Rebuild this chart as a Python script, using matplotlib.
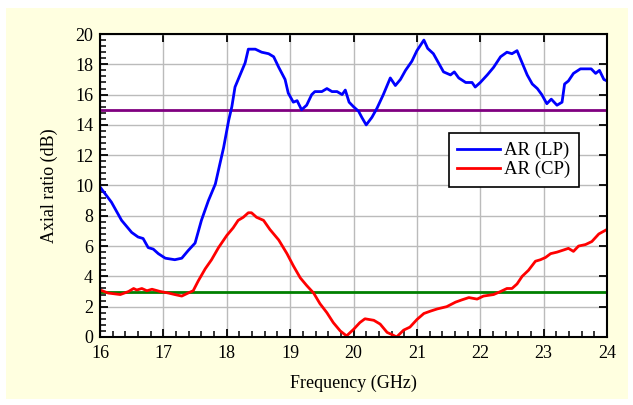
import numpy as np
import matplotlib.pyplot as plt
from matplotlib.patches import Rectangle
from matplotlib.ticker import MultipleLocator

plt.rcParams['font.family'] = ['Liberation Serif', 'DejaVu Serif']

# AR (LP) curve
f_lp = [16.0, 16.18, 16.34, 16.5, 16.6, 16.68, 16.76, 16.84, 16.92, 17.03, 17.18, 17.29,
        17.39, 17.5, 17.6, 17.71, 17.82, 17.89, 17.95, 18.03, 18.08, 18.13, 18.21, 18.29,
        18.34, 18.45, 18.55, 18.66, 18.74, 18.82, 18.92, 18.97, 19.05, 19.11, 19.18, 19.26,
        19.34, 19.39, 19.5, 19.58, 19.66, 19.74, 19.82, 19.87, 19.93, 20.0, 20.08, 20.13,
        20.2, 20.29, 20.37, 20.47, 20.58, 20.66, 20.74, 20.82, 20.92, 21.0, 21.11, 21.17,
        21.26, 21.34, 21.42, 21.53, 21.59, 21.66, 21.77, 21.87, 21.92, 22.0, 22.11, 22.21,
        22.32, 22.42, 22.5, 22.58, 22.66, 22.74, 22.82, 22.9, 22.97, 23.05, 23.12, 23.21,
        23.29, 23.33, 23.39, 23.47, 23.58, 23.68, 23.75, 23.82, 23.88, 23.95, 24.0]
ar_lp = [9.9, 8.9, 7.7, 6.9, 6.6, 6.5, 5.9, 5.8, 5.5, 5.2, 5.1, 5.2,
         5.7, 6.2, 7.7, 9.0, 10.1, 11.4, 12.5, 14.3, 15.2, 16.5, 17.3, 18.1,
         19.0, 19.0, 18.8, 18.7, 18.5, 17.8, 17.0, 16.1, 15.5, 15.6, 15.0, 15.3,
         16.0, 16.2, 16.2, 16.4, 16.2, 16.2, 16.0, 16.3, 15.5, 15.2, 14.9, 14.5,
         14.0, 14.5, 15.1, 16.0, 17.1, 16.6, 17.0, 17.6, 18.2, 18.9, 19.6, 19.05,
         18.7, 18.1, 17.5, 17.3, 17.5, 17.1, 16.8, 16.8, 16.5, 16.8, 17.3, 17.8,
         18.5, 18.8, 18.7, 18.9, 18.1, 17.3, 16.7, 16.4, 16.0, 15.4, 15.7, 15.3,
         15.5, 16.7, 16.9, 17.4, 17.7, 17.7, 17.7, 17.4, 17.6, 17.0, 16.9]

# AR (CP) curve
f_cp = [16.0, 16.13, 16.32, 16.45, 16.53, 16.58, 16.66, 16.74, 16.82, 16.95, 17.08, 17.18,
        17.29, 17.39, 17.47, 17.55, 17.66, 17.76, 17.87, 18.0, 18.1, 18.18, 18.26, 18.34,
        18.39, 18.47, 18.58, 18.68, 18.82, 18.95, 19.05, 19.16, 19.26, 19.37, 19.47, 19.58,
        19.68, 19.79, 19.89, 20.0, 20.1, 20.18, 20.32, 20.42, 20.53, 20.61, 20.68, 20.79,
        20.89, 21.0, 21.11, 21.21, 21.32, 21.47, 21.61, 21.71, 21.82, 21.95, 22.05, 22.21,
        22.32, 22.42, 22.5, 22.58, 22.66, 22.76, 22.87, 22.95, 23.03, 23.11, 23.21, 23.32,
        23.39, 23.47, 23.55, 23.66, 23.76, 23.87, 24.0]
ar_cp = [3.1, 2.9, 2.8, 3.0, 3.2, 3.1, 3.2, 3.05, 3.15, 3.0, 2.9, 2.8,
         2.7, 2.9, 3.05, 3.7, 4.5, 5.1, 5.9, 6.7, 7.2, 7.7, 7.9, 8.2,
         8.2, 7.9, 7.7, 7.1, 6.4, 5.5, 4.7, 3.9, 3.4, 2.9, 2.2, 1.6,
         0.95, 0.4, 0.07, 0.5, 0.95, 1.2, 1.1, 0.85, 0.3, 0.15, 0.0, 0.45,
         0.65, 1.15, 1.55, 1.7, 1.85, 2.0, 2.3, 2.45, 2.6, 2.5, 2.7, 2.8,
         3.0, 3.2, 3.2, 3.5, 4.0, 4.4, 5.0, 5.1, 5.25, 5.5, 5.6, 5.75,
         5.85, 5.65, 6.0, 6.1, 6.3, 6.8, 7.1]

lp_limit = 15
cp_limit = 3

fig = plt.figure(figsize=(6.33, 4.05), dpi=100, facecolor='white')
fig.patches.append(Rectangle((6/633, 6/405), 622/633, 391/405, transform=fig.transFigure,
                             facecolor='#ffffe0', edgecolor='none', zorder=-10))
ax = fig.add_axes([0.158, 0.168, 0.801, 0.748])
ax.set_facecolor('white')

ax.grid(True, color='#bbbbbb', lw=1)
ax.set_axisbelow(True)
ax.axhline(lp_limit, color='#800080', lw=2)
ax.axhline(cp_limit, color='#008000', lw=2)
ax.plot(f_lp, ar_lp, color='#0000ff', lw=2, label='AR (LP)')
ax.plot(f_cp, ar_cp, color='#ff0000', lw=2, label='AR (CP)')

ax.set_xlim(16, 24)
ax.set_ylim(0, 20)
ax.xaxis.set_major_locator(MultipleLocator(1))
ax.xaxis.set_minor_locator(MultipleLocator(0.2))
ax.yaxis.set_major_locator(MultipleLocator(2))
ax.yaxis.set_minor_locator(MultipleLocator(0.4))
ax.tick_params(which='both', direction='in', top=True, right=True, labelsize=13)
ax.tick_params(which='major', length=6, width=1.3)
ax.tick_params(which='minor', length=4, width=1.1, top=False, right=False)
ax.tick_params(axis='x', pad=6)
ax.tick_params(axis='y', pad=5)
for s in ax.spines.values():
    s.set_linewidth(1.5)

ax.set_xlabel('Frequency (GHz)', fontsize=13, labelpad=9)
ax.set_ylabel('Axial ratio (dB)', fontsize=13, labelpad=12)

leg = ax.legend(loc='upper left', bbox_to_anchor=(0.688, 0.672), fontsize=13.5,
                fancybox=False, framealpha=1, edgecolor='black', borderpad=0.45,
                handlelength=2.3, handletextpad=0.2, labelspacing=0.1,
                borderaxespad=0)
leg.get_frame().set_linewidth(1.2)

fig.savefig('out.png', dpi=100, facecolor=fig.get_facecolor())
